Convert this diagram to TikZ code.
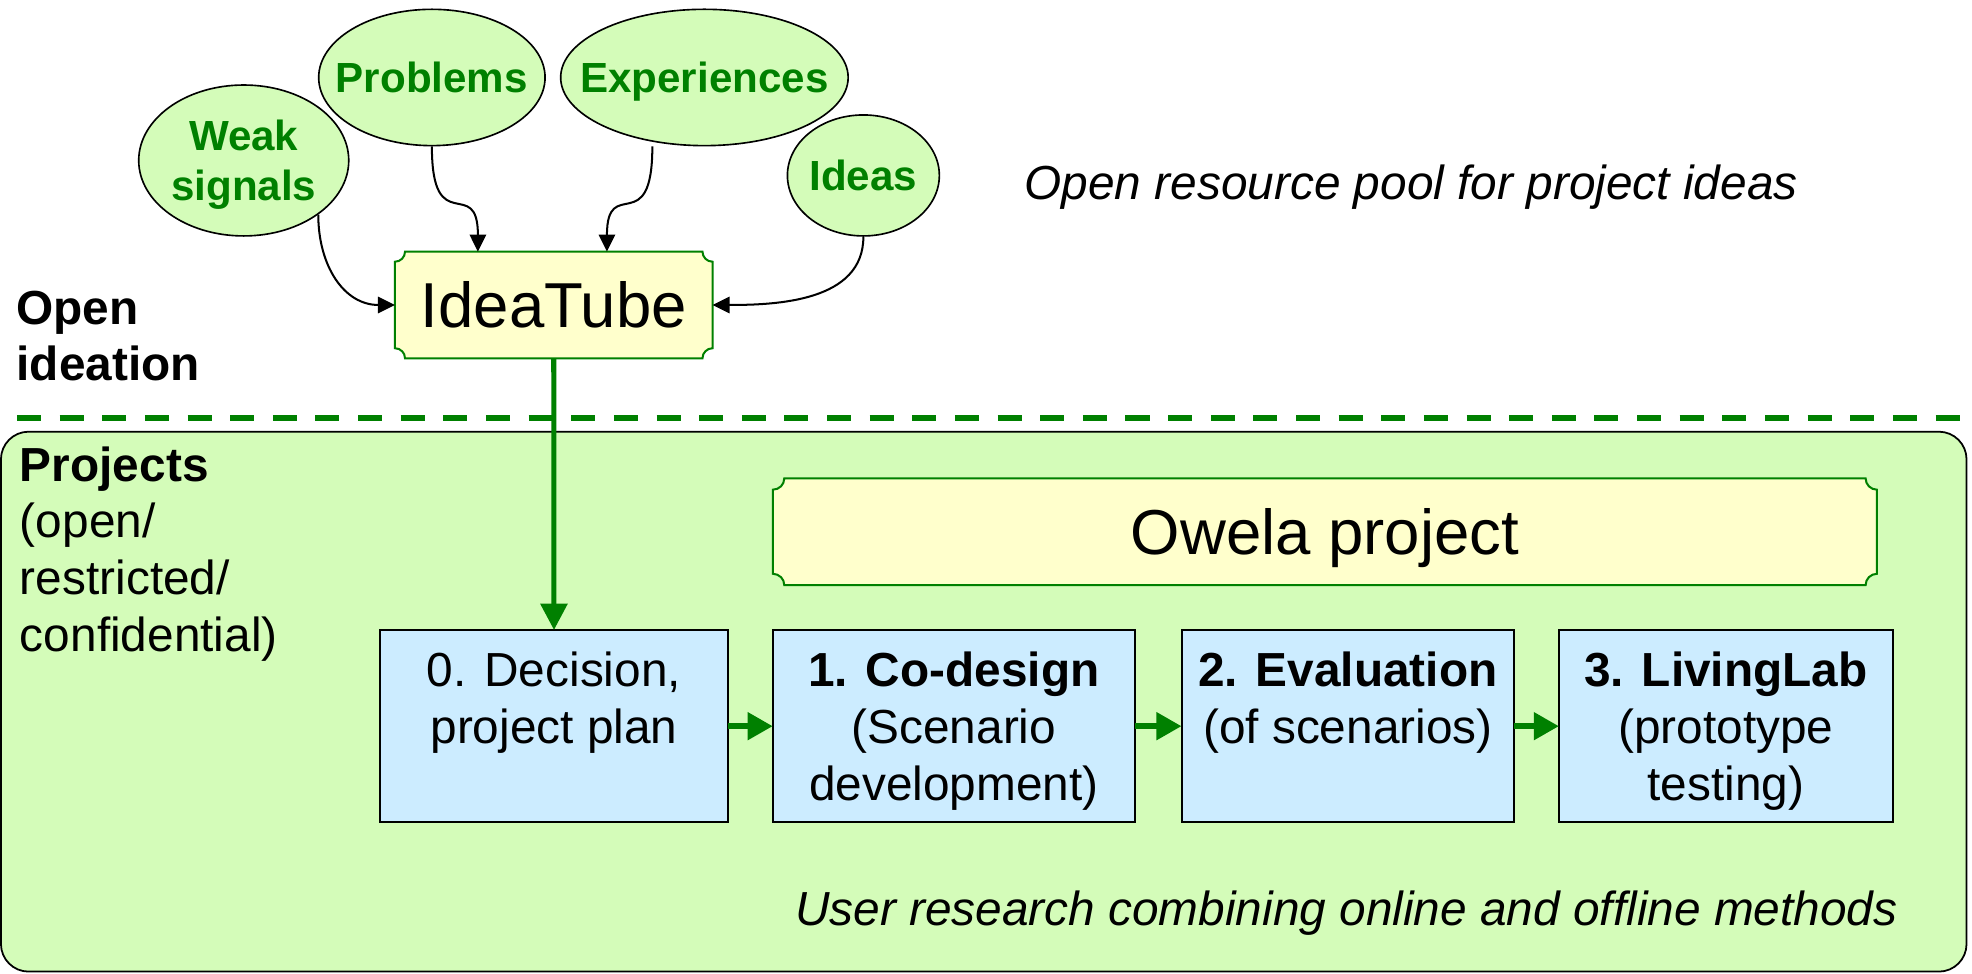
\documentclass[tikz,border=0pt]{standalone}
\usepackage{fontspec}
\setmainfont{Liberation Sans}
\usetikzlibrary{arrows.meta,shapes.geometric,calc}
\definecolor{owgreen}{RGB}{0,128,0}
\definecolor{palegreen}{RGB}{212,252,185}
\definecolor{paleblue}{RGB}{204,236,255}
\definecolor{paleyellow}{RGB}{255,255,204}
\pgfdeclarelayer{bglayer}
\pgfdeclarelayer{midlayer}
\pgfsetlayers{bglayer,midlayer,main}
\newcommand\plaqueoutline[2]{%
  \filldraw[fill=paleyellow,draw=owgreen,line width=1.6pt]
   ([xshift=#2]#1.north west) -- ([xshift=-#2]#1.north east)
   arc[start angle=180,end angle=270,radius=#2]
   -- ([yshift=#2]#1.south east)
   arc[start angle=90,end angle=180,radius=#2]
   -- ([xshift=#2]#1.south west)
   arc[start angle=0,end angle=90,radius=#2]
   -- ([yshift=-#2]#1.north west)
   arc[start angle=270,end angle=360,radius=#2] -- cycle;}
\begin{document}
\begin{tikzpicture}[x=1pt,y=1pt,
  source/.style={ellipse,draw=black,line width=1.3pt,fill=palegreen,inner sep=0pt},
  sourcetext/.style={inner sep=0pt,align=center,text=owgreen,text depth=0pt,
    font=\fontsize{33.5}{39.7}\selectfont\bfseries},
  plaquenode/.style={inner sep=0pt,outer sep=0pt,text depth=0pt,
    font=\fontsize{50.5}{60}\selectfont},
  stepbox/.style={draw=black,line width=1.5pt,fill=paleblue,minimum height=153pt,
    inner sep=0pt,outer sep=0pt},
  steptext/.style={anchor=north,inner sep=0pt,align=center,
    font=\fontsize{38}{45.5}\selectfont},
  sidetext/.style={anchor=north west,inner sep=0pt,align=left,
    font=\fontsize{38}{45}\selectfont},
  notetext/.style={anchor=base,inner sep=0pt,font=\fontsize{38}{45}\selectfont\itshape},
  feed/.style={draw=black,line width=1.6pt,-{Triangle[length=13.5pt,width=13pt]}},
  flow/.style={draw=owgreen,line width=5pt,-{Triangle[length=20pt,width=21pt]}},
  flowdown/.style={draw=owgreen,line width=4pt,-{Triangle[length=21pt,width=21pt]}},
  divider/.style={draw=owgreen,line width=4.8pt,dash pattern=on 19.1pt off 14.8pt}
]
\useasboundingbox (0,0) rectangle (1568,-773.8);

% project area
\begin{pgfonlayer}{bglayer}
\node[draw=black,fill=palegreen,line width=1.4pt,rounded corners=22pt,
  minimum width=1562.9pt,minimum height=429.3pt,inner sep=0pt,outer sep=0pt]
  (projarea) at (782.2,-557.9) {};
\end{pgfonlayer}

% divider
\coordinate (divL) at (13.5,-332.6);
\coordinate (divR) at (1568,-332.6);
\draw[divider] (divL) -- (divR);

% sources
\node[source,minimum width=167pt,minimum height=120pt] (ws) at (193.8,-127.6) {};
\node[source,minimum width=180pt,minimum height=108.4pt] (pr) at (343.4,-61.6) {};
\node[source,minimum width=228.6pt,minimum height=108.4pt] (ex) at (560.1,-61.6) {};
\node[source,minimum width=120.8pt,minimum height=96.2pt] (id) at (686.5,-139.5) {};
\node[sourcetext] (wst) at (ws.center) {Weak\\signals};
\node[sourcetext] (prt) at (pr.center) {Problems};
\node[sourcetext] (ext) at (ex.center) {Experiences};
\node[sourcetext] (idt) at (id.center) {Ideas};

% IdeaTube
\node[plaquenode,minimum width=252.5pt,minimum height=84.8pt] (it) at (440.3,-242.5) {IdeaTube};
% Owela
\node[plaquenode,minimum width=877.8pt,minimum height=84.9pt] (ow) at (1053.5,-422.8) {Owela project};
\begin{pgfonlayer}{midlayer}
\plaqueoutline{it}{8pt}
\plaqueoutline{ow}{9pt}
\end{pgfonlayer}

% labels
\node[notetext] (pool) at (1122,-159) {Open resource pool for project ideas};
\node[sidetext,font=\fontsize{38}{45}\selectfont\bfseries] (openid) at (13,-231) {Open\\ideation};
\node[sidetext] (projlbl) at (15.7,-355) {\textbf{Projects}\\(open/\\restricted/\\confidential)};
\node[notetext] (user) at (1070.5,-735.5) {User research combining online and offline methods};

% steps
\node[stepbox,minimum width=276.6pt] (b0) at (440.5,-577.4) {};
\node[stepbox,minimum width=288pt] (b1) at (758.5,-577.4) {};
\node[stepbox,minimum width=264.3pt] (b2) at (1071.7,-577.4) {};
\node[stepbox,minimum width=265.4pt] (b3) at (1372.3,-577.4) {};
\node[steptext] (b0t) at ([yshift=-17pt]b0.north) {0. Decision,\\project plan};
\node[steptext] (b1t) at ([yshift=-17pt]b1.north) {\textbf{1. Co-design}\\(Scenario\\development)};
\node[steptext] (b2t) at ([yshift=-17pt]b2.north) {\textbf{2. Evaluation}\\(of scenarios)};
\node[steptext] (b3t) at ([yshift=-17pt]b3.north) {\textbf{3. LivingLab}\\(prototype\\testing)};

% connectors
\draw[feed] (ws.-36) to[out=-90,in=180,looseness=1.1] (it.west);
\draw[feed] (pr.south) .. controls +(0,-75) and +(0,62) .. ([xshift=-60.3pt]it.north);
\draw[feed] ([xshift=-41.4pt]ex.south) .. controls +(0,-75) and +(0,62) .. ([xshift=42.3pt]it.north);
\draw[feed] (id.south) to[out=-90,in=0] (it.east);
\draw[flowdown] (it.south) -- (b0.north);
\draw[flow] (b0.east) -- (b1.west);
\draw[flow] (b1.east) -- (b2.west);
\draw[flow] (b2.east) -- (b3.west);
\end{tikzpicture}
\end{document}
